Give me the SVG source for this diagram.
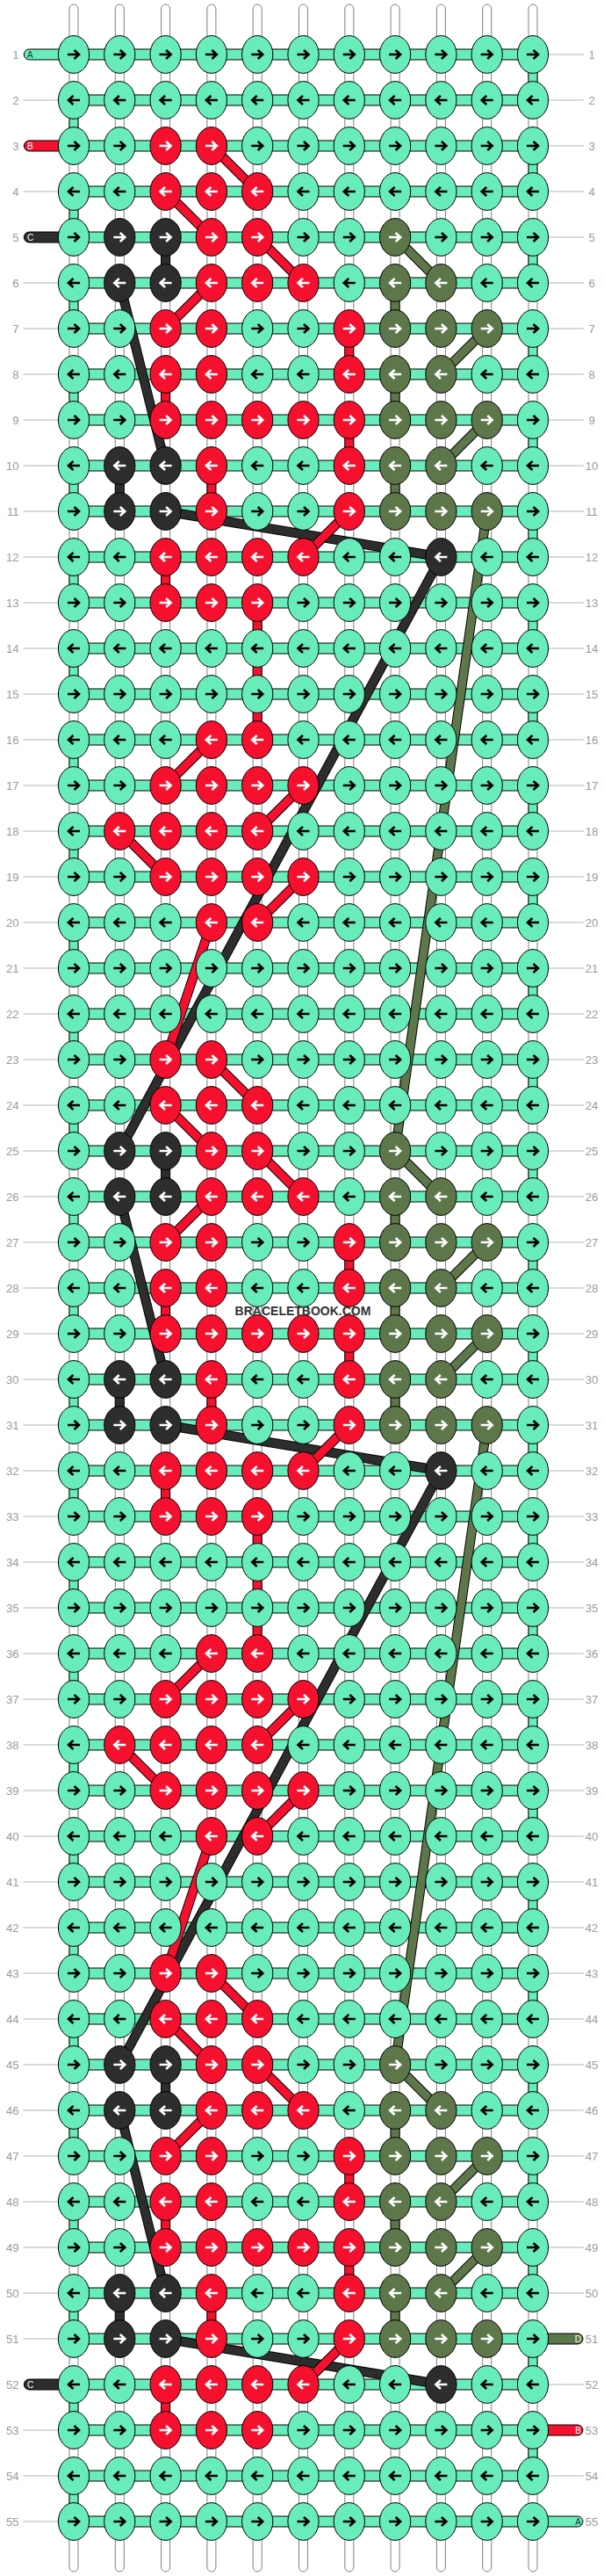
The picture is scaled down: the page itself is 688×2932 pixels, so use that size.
<svg xmlns="http://www.w3.org/2000/svg" width="688" height="2932" viewBox="0 0 688 2932">
<style>
.ka{fill:#68ECBA;stroke:#000;stroke-width:1}
.kb{fill:#F5112E;stroke:#000;stroke-width:1}
.kc{fill:#2D2D2D;stroke:#000;stroke-width:1}
.kd{fill:#5E774A;stroke:#000;stroke-width:1}
.ab{fill:none;stroke:#000;stroke-width:2.6}
.aw{fill:none;stroke:#fff;stroke-width:2.6}
.w{fill:#fff;stroke:#808080;stroke-width:1}
.o{stroke:#000;stroke-width:11;fill:none}
.lb{stroke:#F5112E;stroke-width:9;fill:none}
.lc{stroke:#2D2D2D;stroke-width:9;fill:none}
.ld{stroke:#5E774A;stroke-width:9;fill:none}
.gl{stroke:#b4b4b4;stroke-width:1.2;fill:none}
.n{font-family:"Liberation Sans",Arial,sans-serif;font-size:13px;fill:#9b9b9b}
.t{font-family:"Liberation Sans",Arial,sans-serif;font-size:10px}
.wm{font-family:"Liberation Sans",Arial,sans-serif;font-size:14px;font-weight:bold;fill:#333}
</style>
<defs>
<path id="pr" d="M-7,0H5M0.5,-5L6,0L0.5,5"/>
<path id="pl" d="M7,0H-5M-0.5,-5L-6,0L-0.5,5"/>
<g id="A1"><ellipse class="ka" rx="17.6" ry="21.4"/><use href="#pr" class="ab"/></g>
<g id="A0"><ellipse class="ka" rx="17.6" ry="21.4"/><use href="#pl" class="ab"/></g>
<g id="B1"><ellipse class="kb" rx="17.6" ry="21.4"/><use href="#pr" class="aw"/></g>
<g id="B0"><ellipse class="kb" rx="17.6" ry="21.4"/><use href="#pl" class="aw"/></g>
<g id="C1"><ellipse class="kc" rx="17.6" ry="21.4"/><use href="#pr" class="aw"/></g>
<g id="C0"><ellipse class="kc" rx="17.6" ry="21.4"/><use href="#pl" class="aw"/></g>
<g id="D1"><ellipse class="kd" rx="17.6" ry="21.4"/><use href="#pr" class="aw"/></g>
<g id="D0"><ellipse class="kd" rx="17.6" ry="21.4"/><use href="#pl" class="aw"/></g>
</defs>
<rect width="688" height="2932" fill="#fff"/>
<g id="labels">
<path class="gl" d="M26.5,114H66.5M26.5,218H66.5M26.5,322H66.5M26.5,374H66.5M26.5,426H66.5M26.5,478H66.5M26.5,530H66.5M26.5,582H66.5M26.5,634H66.5M26.5,686H66.5M26.5,738H66.5M26.5,790H66.5M26.5,842H66.5M26.5,894H66.5M26.5,946H66.5M26.5,998H66.5M26.5,1050H66.5M26.5,1102H66.5M26.5,1154H66.5M26.5,1206H66.5M26.5,1258H66.5M26.5,1310H66.5M26.5,1362H66.5M26.5,1414H66.5M26.5,1466H66.5M26.5,1518H66.5M26.5,1570H66.5M26.5,1622H66.5M26.5,1674H66.5M26.5,1726H66.5M26.5,1778H66.5M26.5,1830H66.5M26.5,1882H66.5M26.5,1934H66.5M26.5,1986H66.5M26.5,2038H66.5M26.5,2090H66.5M26.5,2142H66.5M26.5,2194H66.5M26.5,2246H66.5M26.5,2298H66.5M26.5,2350H66.5M26.5,2402H66.5M26.5,2454H66.5M26.5,2506H66.5M26.5,2558H66.5M26.5,2610H66.5M26.5,2662H66.5M26.5,2766H66.5M26.5,2818H66.5M26.5,2870H66.5"/>
<path class="gl" d="M624.5,62H665M624.5,114H665M624.5,166H665M624.5,218H665M624.5,270H665M624.5,322H665M624.5,374H665M624.5,426H665M624.5,478H665M624.5,530H665M624.5,582H665M624.5,634H665M624.5,686H665M624.5,738H665M624.5,790H665M624.5,842H665M624.5,894H665M624.5,946H665M624.5,998H665M624.5,1050H665M624.5,1102H665M624.5,1154H665M624.5,1206H665M624.5,1258H665M624.5,1310H665M624.5,1362H665M624.5,1414H665M624.5,1466H665M624.5,1518H665M624.5,1570H665M624.5,1622H665M624.5,1674H665M624.5,1726H665M624.5,1778H665M624.5,1830H665M624.5,1882H665M624.5,1934H665M624.5,1986H665M624.5,2038H665M624.5,2090H665M624.5,2142H665M624.5,2194H665M624.5,2246H665M624.5,2298H665M624.5,2350H665M624.5,2402H665M624.5,2454H665M624.5,2506H665M624.5,2558H665M624.5,2610H665M624.5,2714H665M624.5,2818H665"/>
<g class="n" text-anchor="end">
<text x="21.5" y="66.7">1</text><text x="21.5" y="118.7">2</text><text x="21.5" y="170.7">3</text><text x="21.5" y="222.7">4</text><text x="21.5" y="274.7">5</text><text x="21.5" y="326.7">6</text><text x="21.5" y="378.7">7</text><text x="21.5" y="430.7">8</text><text x="21.5" y="482.7">9</text><text x="21.5" y="534.7">10</text><text x="21.5" y="586.7">11</text><text x="21.5" y="638.7">12</text><text x="21.5" y="690.7">13</text><text x="21.5" y="742.7">14</text><text x="21.5" y="794.7">15</text><text x="21.5" y="846.7">16</text><text x="21.5" y="898.7">17</text><text x="21.5" y="950.7">18</text><text x="21.5" y="1002.7">19</text><text x="21.5" y="1054.7">20</text><text x="21.5" y="1106.7">21</text><text x="21.5" y="1158.7">22</text><text x="21.5" y="1210.7">23</text><text x="21.5" y="1262.7">24</text><text x="21.5" y="1314.7">25</text><text x="21.5" y="1366.7">26</text><text x="21.5" y="1418.7">27</text><text x="21.5" y="1470.7">28</text><text x="21.5" y="1522.7">29</text><text x="21.5" y="1574.7">30</text><text x="21.5" y="1626.7">31</text><text x="21.5" y="1678.7">32</text><text x="21.5" y="1730.7">33</text><text x="21.5" y="1782.7">34</text><text x="21.5" y="1834.7">35</text><text x="21.5" y="1886.7">36</text><text x="21.5" y="1938.7">37</text><text x="21.5" y="1990.7">38</text><text x="21.5" y="2042.7">39</text><text x="21.5" y="2094.7">40</text><text x="21.5" y="2146.7">41</text><text x="21.5" y="2198.7">42</text><text x="21.5" y="2250.7">43</text><text x="21.5" y="2302.7">44</text><text x="21.5" y="2354.7">45</text><text x="21.5" y="2406.7">46</text><text x="21.5" y="2458.7">47</text><text x="21.5" y="2510.7">48</text><text x="21.5" y="2562.7">49</text><text x="21.5" y="2614.7">50</text><text x="21.5" y="2666.7">51</text><text x="21.5" y="2718.7">52</text><text x="21.5" y="2770.7">53</text><text x="21.5" y="2822.7">54</text><text x="21.5" y="2874.7">55</text>
</g>
<g class="n" text-anchor="middle">
<text x="674" y="66.7">1</text><text x="674" y="118.7">2</text><text x="674" y="170.7">3</text><text x="674" y="222.7">4</text><text x="674" y="274.7">5</text><text x="674" y="326.7">6</text><text x="674" y="378.7">7</text><text x="674" y="430.7">8</text><text x="674" y="482.7">9</text><text x="674" y="534.7">10</text><text x="674" y="586.7">11</text><text x="674" y="638.7">12</text><text x="674" y="690.7">13</text><text x="674" y="742.7">14</text><text x="674" y="794.7">15</text><text x="674" y="846.7">16</text><text x="674" y="898.7">17</text><text x="674" y="950.7">18</text><text x="674" y="1002.7">19</text><text x="674" y="1054.7">20</text><text x="674" y="1106.7">21</text><text x="674" y="1158.7">22</text><text x="674" y="1210.7">23</text><text x="674" y="1262.7">24</text><text x="674" y="1314.7">25</text><text x="674" y="1366.7">26</text><text x="674" y="1418.7">27</text><text x="674" y="1470.7">28</text><text x="674" y="1522.7">29</text><text x="674" y="1574.7">30</text><text x="674" y="1626.7">31</text><text x="674" y="1678.7">32</text><text x="674" y="1730.7">33</text><text x="674" y="1782.7">34</text><text x="674" y="1834.7">35</text><text x="674" y="1886.7">36</text><text x="674" y="1938.7">37</text><text x="674" y="1990.7">38</text><text x="674" y="2042.7">39</text><text x="674" y="2094.7">40</text><text x="674" y="2146.7">41</text><text x="674" y="2198.7">42</text><text x="674" y="2250.7">43</text><text x="674" y="2302.7">44</text><text x="674" y="2354.7">45</text><text x="674" y="2406.7">46</text><text x="674" y="2458.7">47</text><text x="674" y="2510.7">48</text><text x="674" y="2562.7">49</text><text x="674" y="2614.7">50</text><text x="674" y="2666.7">51</text><text x="674" y="2718.7">52</text><text x="674" y="2770.7">53</text><text x="674" y="2822.7">54</text><text x="674" y="2874.7">55</text>
</g>
</g>
<g id="connectors">
<g id="base-strings">
<rect class="w" x="79" y="5" width="10" height="2922" rx="5"/>
<rect class="w" x="131.3" y="5" width="10" height="2922" rx="5"/>
<rect class="w" x="183.6" y="5" width="10" height="2922" rx="5"/>
<rect class="w" x="235.9" y="5" width="10" height="2922" rx="5"/>
<rect class="w" x="288.2" y="5" width="10" height="2922" rx="5"/>
<rect class="w" x="340.5" y="5" width="10" height="2922" rx="5"/>
<rect class="w" x="392.8" y="5" width="10" height="2922" rx="5"/>
<rect class="w" x="445.1" y="5" width="10" height="2922" rx="5"/>
<rect class="w" x="497.4" y="5" width="10" height="2922" rx="5"/>
<rect class="w" x="549.7" y="5" width="10" height="2922" rx="5"/>
<rect class="w" x="602" y="5" width="10" height="2922" rx="5"/>
</g>
<g id="turns">
<path class="ka" d="M602,62h10v52h-10zM602,166h10v52h-10zM602,270h10v52h-10zM602,374h10v52h-10zM602,478h10v52h-10zM602,582h10v52h-10zM602,686h10v52h-10zM602,790h10v52h-10zM602,894h10v52h-10zM602,998h10v52h-10zM602,1102h10v52h-10zM602,1206h10v52h-10zM602,1310h10v52h-10zM602,1414h10v52h-10zM602,1518h10v52h-10zM602,1622h10v52h-10zM602,1726h10v52h-10zM602,1830h10v52h-10zM602,1934h10v52h-10zM602,2038h10v52h-10zM602,2142h10v52h-10zM602,2246h10v52h-10zM602,2350h10v52h-10zM602,2454h10v52h-10zM602,2558h10v52h-10zM602,2662h10v52h-10zM602,2766h10v52h-10z"/>
<path class="ka" d="M79,114h10v52h-10zM79,218h10v52h-10zM79,322h10v52h-10zM79,426h10v52h-10zM79,530h10v52h-10zM79,634h10v52h-10zM79,738h10v52h-10zM79,842h10v52h-10zM79,946h10v52h-10zM79,1050h10v52h-10zM79,1154h10v52h-10zM79,1258h10v52h-10zM79,1362h10v52h-10zM79,1466h10v52h-10zM79,1570h10v52h-10zM79,1674h10v52h-10zM79,1778h10v52h-10zM79,1882h10v52h-10zM79,1986h10v52h-10zM79,2090h10v52h-10zM79,2194h10v52h-10zM79,2298h10v52h-10zM79,2402h10v52h-10zM79,2506h10v52h-10zM79,2610h10v52h-10zM79,2714h10v52h-10zM79,2818h10v52h-10z"/>
</g>
<g id="verticals">
<path class="kc" d="M183.6,270h10v52h-10zM131.3,530h10v52h-10zM183.6,1310h10v52h-10zM131.3,1570h10v52h-10zM183.6,2350h10v52h-10zM131.3,2610h10v52h-10z"/>
<path class="kd" d="M445.1,322h10v52h-10zM445.1,426h10v52h-10zM445.1,530h10v52h-10zM445.1,1362h10v52h-10zM445.1,1466h10v52h-10zM445.1,1570h10v52h-10zM445.1,2402h10v52h-10zM445.1,2506h10v52h-10zM445.1,2610h10v52h-10z"/>
<path class="kb" d="M392.8,374h10v52h-10zM183.6,426h10v52h-10zM392.8,478h10v52h-10zM235.9,530h10v52h-10zM183.6,634h10v52h-10zM288.2,686h10v156h-10zM392.8,1414h10v52h-10zM183.6,1466h10v52h-10zM392.8,1518h10v52h-10zM235.9,1570h10v52h-10zM183.6,1674h10v52h-10zM288.2,1726h10v156h-10zM392.8,2454h10v52h-10zM183.6,2506h10v52h-10zM392.8,2558h10v52h-10zM235.9,2610h10v52h-10zM183.6,2714h10v52h-10z"/>
</g>
<g id="bands">
<path class="ka" d="M84,56h523v12H84zM84,108h523v12H84zM84,160h523v12H84zM84,212h523v12H84zM84,264h523v12H84zM84,316h523v12H84zM84,368h523v12H84zM84,420h523v12H84zM84,472h523v12H84zM84,524h523v12H84zM84,576h523v12H84zM84,628h523v12H84zM84,680h523v12H84zM84,732h523v12H84zM84,784h523v12H84zM84,836h523v12H84zM84,888h523v12H84zM84,940h523v12H84zM84,992h523v12H84zM84,1044h523v12H84zM84,1096h523v12H84zM84,1148h523v12H84zM84,1200h523v12H84zM84,1252h523v12H84zM84,1304h523v12H84zM84,1356h523v12H84zM84,1408h523v12H84zM84,1460h523v12H84zM84,1512h523v12H84zM84,1564h523v12H84zM84,1616h523v12H84zM84,1668h523v12H84zM84,1720h523v12H84zM84,1772h523v12H84zM84,1824h523v12H84zM84,1876h523v12H84zM84,1928h523v12H84zM84,1980h523v12H84zM84,2032h523v12H84zM84,2084h523v12H84zM84,2136h523v12H84zM84,2188h523v12H84zM84,2240h523v12H84zM84,2292h523v12H84zM84,2344h523v12H84zM84,2396h523v12H84zM84,2448h523v12H84zM84,2500h523v12H84zM84,2552h523v12H84zM84,2604h523v12H84zM84,2656h523v12H84zM84,2708h523v12H84zM84,2760h523v12H84zM84,2812h523v12H84zM84,2864h523v12H84z"/>
</g>
<g id="thread-ends">
<path class="ka" d="M84,56H33.3a6,6 0 0 0 0,12H84z"/>
<path class="kb" d="M84,160H33.3a6,6 0 0 0 0,12H84z"/>
<path class="kc" d="M84,264H33.3a6,6 0 0 0 0,12H84z"/>
<path class="kc" d="M84,2708H33.3a6,6 0 0 0 0,12H84z"/>
<path class="kd" d="M607,2656H658a6,6 0 0 1 0,12H607z"/>
<path class="kb" d="M607,2760H658a6,6 0 0 1 0,12H607z"/>
<path class="ka" d="M607,2864H658a6,6 0 0 1 0,12H607z"/>
<text class="t" x="31" y="65.6" fill="#1c3d30">A</text>
<text class="t" x="31" y="169.6" fill="#fff">B</text>
<text class="t" x="31" y="273.6" fill="#fff">C</text>
<text class="t" x="31" y="2717.6" fill="#fff">C</text>
<text class="t" x="662" y="2665.6" fill="#fff" text-anchor="end">D</text>
<text class="t" x="662" y="2769.6" fill="#fff" text-anchor="end">B</text>
<text class="t" x="662" y="2873.6" fill="#1c3d30" text-anchor="end">A</text>
</g>
<g id="diagonals">
<g id="dc1"><line class="o" x1="136.3" y1="322" x2="188.6" y2="530"/><line class="lc" x1="136.3" y1="322" x2="188.6" y2="530"/></g>
<g id="dc2"><line class="o" x1="188.6" y1="582" x2="502.4" y2="634"/><line class="lc" x1="188.6" y1="582" x2="502.4" y2="634"/></g>
<g id="dc3"><line class="o" x1="502.4" y1="634" x2="136.3" y2="1310"/><line class="lc" x1="502.4" y1="634" x2="136.3" y2="1310"/></g>
<g id="dc4"><line class="o" x1="136.3" y1="1362" x2="188.6" y2="1570"/><line class="lc" x1="136.3" y1="1362" x2="188.6" y2="1570"/></g>
<g id="dc5"><line class="o" x1="188.6" y1="1622" x2="502.4" y2="1674"/><line class="lc" x1="188.6" y1="1622" x2="502.4" y2="1674"/></g>
<g id="dc6"><line class="o" x1="502.4" y1="1674" x2="136.3" y2="2350"/><line class="lc" x1="502.4" y1="1674" x2="136.3" y2="2350"/></g>
<g id="dc7"><line class="o" x1="136.3" y1="2402" x2="188.6" y2="2610"/><line class="lc" x1="136.3" y1="2402" x2="188.6" y2="2610"/></g>
<g id="dc8"><line class="o" x1="188.6" y1="2662" x2="502.4" y2="2714"/><line class="lc" x1="188.6" y1="2662" x2="502.4" y2="2714"/></g>
<g id="dd1"><line class="o" x1="450.1" y1="270" x2="502.4" y2="322"/><line class="ld" x1="450.1" y1="270" x2="502.4" y2="322"/></g>
<g id="dd2"><line class="o" x1="502.4" y1="426" x2="554.7" y2="374"/><line class="ld" x1="502.4" y1="426" x2="554.7" y2="374"/></g>
<g id="dd3"><line class="o" x1="554.7" y1="478" x2="502.4" y2="530"/><line class="ld" x1="554.7" y1="478" x2="502.4" y2="530"/></g>
<g id="dd4"><line class="o" x1="554.7" y1="582" x2="450.1" y2="1310"/><line class="ld" x1="554.7" y1="582" x2="450.1" y2="1310"/></g>
<g id="dd5"><line class="o" x1="450.1" y1="1310" x2="502.4" y2="1362"/><line class="ld" x1="450.1" y1="1310" x2="502.4" y2="1362"/></g>
<g id="dd6"><line class="o" x1="502.4" y1="1466" x2="554.7" y2="1414"/><line class="ld" x1="502.4" y1="1466" x2="554.7" y2="1414"/></g>
<g id="dd7"><line class="o" x1="554.7" y1="1518" x2="502.4" y2="1570"/><line class="ld" x1="554.7" y1="1518" x2="502.4" y2="1570"/></g>
<g id="dd8"><line class="o" x1="554.7" y1="1622" x2="450.1" y2="2350"/><line class="ld" x1="554.7" y1="1622" x2="450.1" y2="2350"/></g>
<g id="dd9"><line class="o" x1="450.1" y1="2350" x2="502.4" y2="2402"/><line class="ld" x1="450.1" y1="2350" x2="502.4" y2="2402"/></g>
<g id="dd10"><line class="o" x1="502.4" y1="2506" x2="554.7" y2="2454"/><line class="ld" x1="502.4" y1="2506" x2="554.7" y2="2454"/></g>
<g id="dd11"><line class="o" x1="554.7" y1="2558" x2="502.4" y2="2610"/><line class="ld" x1="554.7" y1="2558" x2="502.4" y2="2610"/></g>
<g id="db1"><line class="o" x1="240.9" y1="166" x2="293.2" y2="218"/><line class="lb" x1="240.9" y1="166" x2="293.2" y2="218"/></g>
<g id="db2"><line class="o" x1="188.6" y1="218" x2="240.9" y2="270"/><line class="lb" x1="188.6" y1="218" x2="240.9" y2="270"/></g>
<g id="db3"><line class="o" x1="293.2" y1="270" x2="345.5" y2="322"/><line class="lb" x1="293.2" y1="270" x2="345.5" y2="322"/></g>
<g id="db4"><line class="o" x1="240.9" y1="322" x2="188.6" y2="374"/><line class="lb" x1="240.9" y1="322" x2="188.6" y2="374"/></g>
<g id="db5"><line class="o" x1="397.8" y1="582" x2="345.5" y2="634"/><line class="lb" x1="397.8" y1="582" x2="345.5" y2="634"/></g>
<g id="db6"><line class="o" x1="240.9" y1="842" x2="188.6" y2="894"/><line class="lb" x1="240.9" y1="842" x2="188.6" y2="894"/></g>
<g id="db7"><line class="o" x1="345.5" y1="894" x2="293.2" y2="946"/><line class="lb" x1="345.5" y1="894" x2="293.2" y2="946"/></g>
<g id="db8"><line class="o" x1="136.3" y1="946" x2="188.6" y2="998"/><line class="lb" x1="136.3" y1="946" x2="188.6" y2="998"/></g>
<g id="db9"><line class="o" x1="345.5" y1="998" x2="293.2" y2="1050"/><line class="lb" x1="345.5" y1="998" x2="293.2" y2="1050"/></g>
<g id="db10"><line class="o" x1="240.9" y1="1050" x2="188.6" y2="1206"/><line class="lb" x1="240.9" y1="1050" x2="188.6" y2="1206"/></g>
<g id="db11"><line class="o" x1="240.9" y1="1206" x2="293.2" y2="1258"/><line class="lb" x1="240.9" y1="1206" x2="293.2" y2="1258"/></g>
<g id="db12"><line class="o" x1="188.6" y1="1258" x2="240.9" y2="1310"/><line class="lb" x1="188.6" y1="1258" x2="240.9" y2="1310"/></g>
<g id="db13"><line class="o" x1="293.2" y1="1310" x2="345.5" y2="1362"/><line class="lb" x1="293.2" y1="1310" x2="345.5" y2="1362"/></g>
<g id="db14"><line class="o" x1="240.9" y1="1362" x2="188.6" y2="1414"/><line class="lb" x1="240.9" y1="1362" x2="188.6" y2="1414"/></g>
<g id="db15"><line class="o" x1="397.8" y1="1622" x2="345.5" y2="1674"/><line class="lb" x1="397.8" y1="1622" x2="345.5" y2="1674"/></g>
<g id="db16"><line class="o" x1="240.9" y1="1882" x2="188.6" y2="1934"/><line class="lb" x1="240.9" y1="1882" x2="188.6" y2="1934"/></g>
<g id="db17"><line class="o" x1="345.5" y1="1934" x2="293.2" y2="1986"/><line class="lb" x1="345.5" y1="1934" x2="293.2" y2="1986"/></g>
<g id="db18"><line class="o" x1="136.3" y1="1986" x2="188.6" y2="2038"/><line class="lb" x1="136.3" y1="1986" x2="188.6" y2="2038"/></g>
<g id="db19"><line class="o" x1="345.5" y1="2038" x2="293.2" y2="2090"/><line class="lb" x1="345.5" y1="2038" x2="293.2" y2="2090"/></g>
<g id="db20"><line class="o" x1="240.9" y1="2090" x2="188.6" y2="2246"/><line class="lb" x1="240.9" y1="2090" x2="188.6" y2="2246"/></g>
<g id="db21"><line class="o" x1="240.9" y1="2246" x2="293.2" y2="2298"/><line class="lb" x1="240.9" y1="2246" x2="293.2" y2="2298"/></g>
<g id="db22"><line class="o" x1="188.6" y1="2298" x2="240.9" y2="2350"/><line class="lb" x1="188.6" y1="2298" x2="240.9" y2="2350"/></g>
<g id="db23"><line class="o" x1="293.2" y1="2350" x2="345.5" y2="2402"/><line class="lb" x1="293.2" y1="2350" x2="345.5" y2="2402"/></g>
<g id="db24"><line class="o" x1="240.9" y1="2402" x2="188.6" y2="2454"/><line class="lb" x1="240.9" y1="2402" x2="188.6" y2="2454"/></g>
<g id="db25"><line class="o" x1="397.8" y1="2662" x2="345.5" y2="2714"/><line class="lb" x1="397.8" y1="2662" x2="345.5" y2="2714"/></g>
</g>
</g>
<g id="knots">
<g id="r1" transform="translate(0,62)"><g id="k1-1"><use href="#A1" x="84"/></g><g id="k1-2"><use href="#A1" x="136.3"/></g><g id="k1-3"><use href="#A1" x="188.6"/></g><g id="k1-4"><use href="#A1" x="240.9"/></g><g id="k1-5"><use href="#A1" x="293.2"/></g><g id="k1-6"><use href="#A1" x="345.5"/></g><g id="k1-7"><use href="#A1" x="397.8"/></g><g id="k1-8"><use href="#A1" x="450.1"/></g><g id="k1-9"><use href="#A1" x="502.4"/></g><g id="k1-10"><use href="#A1" x="554.7"/></g><g id="k1-11"><use href="#A1" x="607"/></g></g>
<g id="r2" transform="translate(0,114)"><g id="k2-1"><use href="#A0" x="84"/></g><g id="k2-2"><use href="#A0" x="136.3"/></g><g id="k2-3"><use href="#A0" x="188.6"/></g><g id="k2-4"><use href="#A0" x="240.9"/></g><g id="k2-5"><use href="#A0" x="293.2"/></g><g id="k2-6"><use href="#A0" x="345.5"/></g><g id="k2-7"><use href="#A0" x="397.8"/></g><g id="k2-8"><use href="#A0" x="450.1"/></g><g id="k2-9"><use href="#A0" x="502.4"/></g><g id="k2-10"><use href="#A0" x="554.7"/></g><g id="k2-11"><use href="#A0" x="607"/></g></g>
<g id="r3" transform="translate(0,166)"><g id="k3-1"><use href="#A1" x="84"/></g><g id="k3-2"><use href="#A1" x="136.3"/></g><g id="k3-3"><use href="#B1" x="188.6"/></g><g id="k3-4"><use href="#B1" x="240.9"/></g><g id="k3-5"><use href="#A1" x="293.2"/></g><g id="k3-6"><use href="#A1" x="345.5"/></g><g id="k3-7"><use href="#A1" x="397.8"/></g><g id="k3-8"><use href="#A1" x="450.1"/></g><g id="k3-9"><use href="#A1" x="502.4"/></g><g id="k3-10"><use href="#A1" x="554.7"/></g><g id="k3-11"><use href="#A1" x="607"/></g></g>
<g id="r4" transform="translate(0,218)"><g id="k4-1"><use href="#A0" x="84"/></g><g id="k4-2"><use href="#A0" x="136.3"/></g><g id="k4-3"><use href="#B0" x="188.6"/></g><g id="k4-4"><use href="#B0" x="240.9"/></g><g id="k4-5"><use href="#B0" x="293.2"/></g><g id="k4-6"><use href="#A0" x="345.5"/></g><g id="k4-7"><use href="#A0" x="397.8"/></g><g id="k4-8"><use href="#A0" x="450.1"/></g><g id="k4-9"><use href="#A0" x="502.4"/></g><g id="k4-10"><use href="#A0" x="554.7"/></g><g id="k4-11"><use href="#A0" x="607"/></g></g>
<g id="r5" transform="translate(0,270)"><g id="k5-1"><use href="#A1" x="84"/></g><g id="k5-2"><use href="#C1" x="136.3"/></g><g id="k5-3"><use href="#C1" x="188.6"/></g><g id="k5-4"><use href="#B1" x="240.9"/></g><g id="k5-5"><use href="#B1" x="293.2"/></g><g id="k5-6"><use href="#A1" x="345.5"/></g><g id="k5-7"><use href="#A1" x="397.8"/></g><g id="k5-8"><use href="#D1" x="450.1"/></g><g id="k5-9"><use href="#A1" x="502.4"/></g><g id="k5-10"><use href="#A1" x="554.7"/></g><g id="k5-11"><use href="#A1" x="607"/></g></g>
<g id="r6" transform="translate(0,322)"><g id="k6-1"><use href="#A0" x="84"/></g><g id="k6-2"><use href="#C0" x="136.3"/></g><g id="k6-3"><use href="#C0" x="188.6"/></g><g id="k6-4"><use href="#B0" x="240.9"/></g><g id="k6-5"><use href="#B0" x="293.2"/></g><g id="k6-6"><use href="#B0" x="345.5"/></g><g id="k6-7"><use href="#A0" x="397.8"/></g><g id="k6-8"><use href="#D0" x="450.1"/></g><g id="k6-9"><use href="#D0" x="502.4"/></g><g id="k6-10"><use href="#A0" x="554.7"/></g><g id="k6-11"><use href="#A0" x="607"/></g></g>
<g id="r7" transform="translate(0,374)"><g id="k7-1"><use href="#A1" x="84"/></g><g id="k7-2"><use href="#A1" x="136.3"/></g><g id="k7-3"><use href="#B1" x="188.6"/></g><g id="k7-4"><use href="#B1" x="240.9"/></g><g id="k7-5"><use href="#A1" x="293.2"/></g><g id="k7-6"><use href="#A1" x="345.5"/></g><g id="k7-7"><use href="#B1" x="397.8"/></g><g id="k7-8"><use href="#D1" x="450.1"/></g><g id="k7-9"><use href="#D1" x="502.4"/></g><g id="k7-10"><use href="#D1" x="554.7"/></g><g id="k7-11"><use href="#A1" x="607"/></g></g>
<g id="r8" transform="translate(0,426)"><g id="k8-1"><use href="#A0" x="84"/></g><g id="k8-2"><use href="#A0" x="136.3"/></g><g id="k8-3"><use href="#B0" x="188.6"/></g><g id="k8-4"><use href="#B0" x="240.9"/></g><g id="k8-5"><use href="#A0" x="293.2"/></g><g id="k8-6"><use href="#A0" x="345.5"/></g><g id="k8-7"><use href="#B0" x="397.8"/></g><g id="k8-8"><use href="#D0" x="450.1"/></g><g id="k8-9"><use href="#D0" x="502.4"/></g><g id="k8-10"><use href="#A0" x="554.7"/></g><g id="k8-11"><use href="#A0" x="607"/></g></g>
<g id="r9" transform="translate(0,478)"><g id="k9-1"><use href="#A1" x="84"/></g><g id="k9-2"><use href="#A1" x="136.3"/></g><g id="k9-3"><use href="#B1" x="188.6"/></g><g id="k9-4"><use href="#B1" x="240.9"/></g><g id="k9-5"><use href="#B1" x="293.2"/></g><g id="k9-6"><use href="#B1" x="345.5"/></g><g id="k9-7"><use href="#B1" x="397.8"/></g><g id="k9-8"><use href="#D1" x="450.1"/></g><g id="k9-9"><use href="#D1" x="502.4"/></g><g id="k9-10"><use href="#D1" x="554.7"/></g><g id="k9-11"><use href="#A1" x="607"/></g></g>
<g id="r10" transform="translate(0,530)"><g id="k10-1"><use href="#A0" x="84"/></g><g id="k10-2"><use href="#C0" x="136.3"/></g><g id="k10-3"><use href="#C0" x="188.6"/></g><g id="k10-4"><use href="#B0" x="240.9"/></g><g id="k10-5"><use href="#A0" x="293.2"/></g><g id="k10-6"><use href="#A0" x="345.5"/></g><g id="k10-7"><use href="#B0" x="397.8"/></g><g id="k10-8"><use href="#D0" x="450.1"/></g><g id="k10-9"><use href="#D0" x="502.4"/></g><g id="k10-10"><use href="#A0" x="554.7"/></g><g id="k10-11"><use href="#A0" x="607"/></g></g>
<g id="r11" transform="translate(0,582)"><g id="k11-1"><use href="#A1" x="84"/></g><g id="k11-2"><use href="#C1" x="136.3"/></g><g id="k11-3"><use href="#C1" x="188.6"/></g><g id="k11-4"><use href="#B1" x="240.9"/></g><g id="k11-5"><use href="#A1" x="293.2"/></g><g id="k11-6"><use href="#A1" x="345.5"/></g><g id="k11-7"><use href="#B1" x="397.8"/></g><g id="k11-8"><use href="#D1" x="450.1"/></g><g id="k11-9"><use href="#D1" x="502.4"/></g><g id="k11-10"><use href="#D1" x="554.7"/></g><g id="k11-11"><use href="#A1" x="607"/></g></g>
<g id="r12" transform="translate(0,634)"><g id="k12-1"><use href="#A0" x="84"/></g><g id="k12-2"><use href="#A0" x="136.3"/></g><g id="k12-3"><use href="#B0" x="188.6"/></g><g id="k12-4"><use href="#B0" x="240.9"/></g><g id="k12-5"><use href="#B0" x="293.2"/></g><g id="k12-6"><use href="#B0" x="345.5"/></g><g id="k12-7"><use href="#A0" x="397.8"/></g><g id="k12-8"><use href="#A0" x="450.1"/></g><g id="k12-9"><use href="#C0" x="502.4"/></g><g id="k12-10"><use href="#A0" x="554.7"/></g><g id="k12-11"><use href="#A0" x="607"/></g></g>
<g id="r13" transform="translate(0,686)"><g id="k13-1"><use href="#A1" x="84"/></g><g id="k13-2"><use href="#A1" x="136.3"/></g><g id="k13-3"><use href="#B1" x="188.6"/></g><g id="k13-4"><use href="#B1" x="240.9"/></g><g id="k13-5"><use href="#B1" x="293.2"/></g><g id="k13-6"><use href="#A1" x="345.5"/></g><g id="k13-7"><use href="#A1" x="397.8"/></g><g id="k13-8"><use href="#A1" x="450.1"/></g><g id="k13-9"><use href="#A1" x="502.4"/></g><g id="k13-10"><use href="#A1" x="554.7"/></g><g id="k13-11"><use href="#A1" x="607"/></g></g>
<g id="r14" transform="translate(0,738)"><g id="k14-1"><use href="#A0" x="84"/></g><g id="k14-2"><use href="#A0" x="136.3"/></g><g id="k14-3"><use href="#A0" x="188.6"/></g><g id="k14-4"><use href="#A0" x="240.9"/></g><g id="k14-5"><use href="#A0" x="293.2"/></g><g id="k14-6"><use href="#A0" x="345.5"/></g><g id="k14-7"><use href="#A0" x="397.8"/></g><g id="k14-8"><use href="#A0" x="450.1"/></g><g id="k14-9"><use href="#A0" x="502.4"/></g><g id="k14-10"><use href="#A0" x="554.7"/></g><g id="k14-11"><use href="#A0" x="607"/></g></g>
<g id="r15" transform="translate(0,790)"><g id="k15-1"><use href="#A1" x="84"/></g><g id="k15-2"><use href="#A1" x="136.3"/></g><g id="k15-3"><use href="#A1" x="188.6"/></g><g id="k15-4"><use href="#A1" x="240.9"/></g><g id="k15-5"><use href="#A1" x="293.2"/></g><g id="k15-6"><use href="#A1" x="345.5"/></g><g id="k15-7"><use href="#A1" x="397.8"/></g><g id="k15-8"><use href="#A1" x="450.1"/></g><g id="k15-9"><use href="#A1" x="502.4"/></g><g id="k15-10"><use href="#A1" x="554.7"/></g><g id="k15-11"><use href="#A1" x="607"/></g></g>
<g id="r16" transform="translate(0,842)"><g id="k16-1"><use href="#A0" x="84"/></g><g id="k16-2"><use href="#A0" x="136.3"/></g><g id="k16-3"><use href="#A0" x="188.6"/></g><g id="k16-4"><use href="#B0" x="240.9"/></g><g id="k16-5"><use href="#B0" x="293.2"/></g><g id="k16-6"><use href="#A0" x="345.5"/></g><g id="k16-7"><use href="#A0" x="397.8"/></g><g id="k16-8"><use href="#A0" x="450.1"/></g><g id="k16-9"><use href="#A0" x="502.4"/></g><g id="k16-10"><use href="#A0" x="554.7"/></g><g id="k16-11"><use href="#A0" x="607"/></g></g>
<g id="r17" transform="translate(0,894)"><g id="k17-1"><use href="#A1" x="84"/></g><g id="k17-2"><use href="#A1" x="136.3"/></g><g id="k17-3"><use href="#B1" x="188.6"/></g><g id="k17-4"><use href="#B1" x="240.9"/></g><g id="k17-5"><use href="#B1" x="293.2"/></g><g id="k17-6"><use href="#B1" x="345.5"/></g><g id="k17-7"><use href="#A1" x="397.8"/></g><g id="k17-8"><use href="#A1" x="450.1"/></g><g id="k17-9"><use href="#A1" x="502.4"/></g><g id="k17-10"><use href="#A1" x="554.7"/></g><g id="k17-11"><use href="#A1" x="607"/></g></g>
<g id="r18" transform="translate(0,946)"><g id="k18-1"><use href="#A0" x="84"/></g><g id="k18-2"><use href="#B0" x="136.3"/></g><g id="k18-3"><use href="#B0" x="188.6"/></g><g id="k18-4"><use href="#B0" x="240.9"/></g><g id="k18-5"><use href="#B0" x="293.2"/></g><g id="k18-6"><use href="#A0" x="345.5"/></g><g id="k18-7"><use href="#A0" x="397.8"/></g><g id="k18-8"><use href="#A0" x="450.1"/></g><g id="k18-9"><use href="#A0" x="502.4"/></g><g id="k18-10"><use href="#A0" x="554.7"/></g><g id="k18-11"><use href="#A0" x="607"/></g></g>
<g id="r19" transform="translate(0,998)"><g id="k19-1"><use href="#A1" x="84"/></g><g id="k19-2"><use href="#A1" x="136.3"/></g><g id="k19-3"><use href="#B1" x="188.6"/></g><g id="k19-4"><use href="#B1" x="240.9"/></g><g id="k19-5"><use href="#B1" x="293.2"/></g><g id="k19-6"><use href="#B1" x="345.5"/></g><g id="k19-7"><use href="#A1" x="397.8"/></g><g id="k19-8"><use href="#A1" x="450.1"/></g><g id="k19-9"><use href="#A1" x="502.4"/></g><g id="k19-10"><use href="#A1" x="554.7"/></g><g id="k19-11"><use href="#A1" x="607"/></g></g>
<g id="r20" transform="translate(0,1050)"><g id="k20-1"><use href="#A0" x="84"/></g><g id="k20-2"><use href="#A0" x="136.3"/></g><g id="k20-3"><use href="#A0" x="188.6"/></g><g id="k20-4"><use href="#B0" x="240.9"/></g><g id="k20-5"><use href="#B0" x="293.2"/></g><g id="k20-6"><use href="#A0" x="345.5"/></g><g id="k20-7"><use href="#A0" x="397.8"/></g><g id="k20-8"><use href="#A0" x="450.1"/></g><g id="k20-9"><use href="#A0" x="502.4"/></g><g id="k20-10"><use href="#A0" x="554.7"/></g><g id="k20-11"><use href="#A0" x="607"/></g></g>
<g id="r21" transform="translate(0,1102)"><g id="k21-1"><use href="#A1" x="84"/></g><g id="k21-2"><use href="#A1" x="136.3"/></g><g id="k21-3"><use href="#A1" x="188.6"/></g><g id="k21-4"><use href="#A1" x="240.9"/></g><g id="k21-5"><use href="#A1" x="293.2"/></g><g id="k21-6"><use href="#A1" x="345.5"/></g><g id="k21-7"><use href="#A1" x="397.8"/></g><g id="k21-8"><use href="#A1" x="450.1"/></g><g id="k21-9"><use href="#A1" x="502.4"/></g><g id="k21-10"><use href="#A1" x="554.7"/></g><g id="k21-11"><use href="#A1" x="607"/></g></g>
<g id="r22" transform="translate(0,1154)"><g id="k22-1"><use href="#A0" x="84"/></g><g id="k22-2"><use href="#A0" x="136.3"/></g><g id="k22-3"><use href="#A0" x="188.6"/></g><g id="k22-4"><use href="#A0" x="240.9"/></g><g id="k22-5"><use href="#A0" x="293.2"/></g><g id="k22-6"><use href="#A0" x="345.5"/></g><g id="k22-7"><use href="#A0" x="397.8"/></g><g id="k22-8"><use href="#A0" x="450.1"/></g><g id="k22-9"><use href="#A0" x="502.4"/></g><g id="k22-10"><use href="#A0" x="554.7"/></g><g id="k22-11"><use href="#A0" x="607"/></g></g>
<g id="r23" transform="translate(0,1206)"><g id="k23-1"><use href="#A1" x="84"/></g><g id="k23-2"><use href="#A1" x="136.3"/></g><g id="k23-3"><use href="#B1" x="188.6"/></g><g id="k23-4"><use href="#B1" x="240.9"/></g><g id="k23-5"><use href="#A1" x="293.2"/></g><g id="k23-6"><use href="#A1" x="345.5"/></g><g id="k23-7"><use href="#A1" x="397.8"/></g><g id="k23-8"><use href="#A1" x="450.1"/></g><g id="k23-9"><use href="#A1" x="502.4"/></g><g id="k23-10"><use href="#A1" x="554.7"/></g><g id="k23-11"><use href="#A1" x="607"/></g></g>
<g id="r24" transform="translate(0,1258)"><g id="k24-1"><use href="#A0" x="84"/></g><g id="k24-2"><use href="#A0" x="136.3"/></g><g id="k24-3"><use href="#B0" x="188.6"/></g><g id="k24-4"><use href="#B0" x="240.9"/></g><g id="k24-5"><use href="#B0" x="293.2"/></g><g id="k24-6"><use href="#A0" x="345.5"/></g><g id="k24-7"><use href="#A0" x="397.8"/></g><g id="k24-8"><use href="#A0" x="450.1"/></g><g id="k24-9"><use href="#A0" x="502.4"/></g><g id="k24-10"><use href="#A0" x="554.7"/></g><g id="k24-11"><use href="#A0" x="607"/></g></g>
<g id="r25" transform="translate(0,1310)"><g id="k25-1"><use href="#A1" x="84"/></g><g id="k25-2"><use href="#C1" x="136.3"/></g><g id="k25-3"><use href="#C1" x="188.6"/></g><g id="k25-4"><use href="#B1" x="240.9"/></g><g id="k25-5"><use href="#B1" x="293.2"/></g><g id="k25-6"><use href="#A1" x="345.5"/></g><g id="k25-7"><use href="#A1" x="397.8"/></g><g id="k25-8"><use href="#D1" x="450.1"/></g><g id="k25-9"><use href="#A1" x="502.4"/></g><g id="k25-10"><use href="#A1" x="554.7"/></g><g id="k25-11"><use href="#A1" x="607"/></g></g>
<g id="r26" transform="translate(0,1362)"><g id="k26-1"><use href="#A0" x="84"/></g><g id="k26-2"><use href="#C0" x="136.3"/></g><g id="k26-3"><use href="#C0" x="188.6"/></g><g id="k26-4"><use href="#B0" x="240.9"/></g><g id="k26-5"><use href="#B0" x="293.2"/></g><g id="k26-6"><use href="#B0" x="345.5"/></g><g id="k26-7"><use href="#A0" x="397.8"/></g><g id="k26-8"><use href="#D0" x="450.1"/></g><g id="k26-9"><use href="#D0" x="502.4"/></g><g id="k26-10"><use href="#A0" x="554.7"/></g><g id="k26-11"><use href="#A0" x="607"/></g></g>
<g id="r27" transform="translate(0,1414)"><g id="k27-1"><use href="#A1" x="84"/></g><g id="k27-2"><use href="#A1" x="136.3"/></g><g id="k27-3"><use href="#B1" x="188.6"/></g><g id="k27-4"><use href="#B1" x="240.9"/></g><g id="k27-5"><use href="#A1" x="293.2"/></g><g id="k27-6"><use href="#A1" x="345.5"/></g><g id="k27-7"><use href="#B1" x="397.8"/></g><g id="k27-8"><use href="#D1" x="450.1"/></g><g id="k27-9"><use href="#D1" x="502.4"/></g><g id="k27-10"><use href="#D1" x="554.7"/></g><g id="k27-11"><use href="#A1" x="607"/></g></g>
<g id="r28" transform="translate(0,1466)"><g id="k28-1"><use href="#A0" x="84"/></g><g id="k28-2"><use href="#A0" x="136.3"/></g><g id="k28-3"><use href="#B0" x="188.6"/></g><g id="k28-4"><use href="#B0" x="240.9"/></g><g id="k28-5"><use href="#A0" x="293.2"/></g><g id="k28-6"><use href="#A0" x="345.5"/></g><g id="k28-7"><use href="#B0" x="397.8"/></g><g id="k28-8"><use href="#D0" x="450.1"/></g><g id="k28-9"><use href="#D0" x="502.4"/></g><g id="k28-10"><use href="#A0" x="554.7"/></g><g id="k28-11"><use href="#A0" x="607"/></g></g>
<g id="r29" transform="translate(0,1518)"><g id="k29-1"><use href="#A1" x="84"/></g><g id="k29-2"><use href="#A1" x="136.3"/></g><g id="k29-3"><use href="#B1" x="188.6"/></g><g id="k29-4"><use href="#B1" x="240.9"/></g><g id="k29-5"><use href="#B1" x="293.2"/></g><g id="k29-6"><use href="#B1" x="345.5"/></g><g id="k29-7"><use href="#B1" x="397.8"/></g><g id="k29-8"><use href="#D1" x="450.1"/></g><g id="k29-9"><use href="#D1" x="502.4"/></g><g id="k29-10"><use href="#D1" x="554.7"/></g><g id="k29-11"><use href="#A1" x="607"/></g></g>
<g id="r30" transform="translate(0,1570)"><g id="k30-1"><use href="#A0" x="84"/></g><g id="k30-2"><use href="#C0" x="136.3"/></g><g id="k30-3"><use href="#C0" x="188.6"/></g><g id="k30-4"><use href="#B0" x="240.9"/></g><g id="k30-5"><use href="#A0" x="293.2"/></g><g id="k30-6"><use href="#A0" x="345.5"/></g><g id="k30-7"><use href="#B0" x="397.8"/></g><g id="k30-8"><use href="#D0" x="450.1"/></g><g id="k30-9"><use href="#D0" x="502.4"/></g><g id="k30-10"><use href="#A0" x="554.7"/></g><g id="k30-11"><use href="#A0" x="607"/></g></g>
<g id="r31" transform="translate(0,1622)"><g id="k31-1"><use href="#A1" x="84"/></g><g id="k31-2"><use href="#C1" x="136.3"/></g><g id="k31-3"><use href="#C1" x="188.6"/></g><g id="k31-4"><use href="#B1" x="240.9"/></g><g id="k31-5"><use href="#A1" x="293.2"/></g><g id="k31-6"><use href="#A1" x="345.5"/></g><g id="k31-7"><use href="#B1" x="397.8"/></g><g id="k31-8"><use href="#D1" x="450.1"/></g><g id="k31-9"><use href="#D1" x="502.4"/></g><g id="k31-10"><use href="#D1" x="554.7"/></g><g id="k31-11"><use href="#A1" x="607"/></g></g>
<g id="r32" transform="translate(0,1674)"><g id="k32-1"><use href="#A0" x="84"/></g><g id="k32-2"><use href="#A0" x="136.3"/></g><g id="k32-3"><use href="#B0" x="188.6"/></g><g id="k32-4"><use href="#B0" x="240.9"/></g><g id="k32-5"><use href="#B0" x="293.2"/></g><g id="k32-6"><use href="#B0" x="345.5"/></g><g id="k32-7"><use href="#A0" x="397.8"/></g><g id="k32-8"><use href="#A0" x="450.1"/></g><g id="k32-9"><use href="#C0" x="502.4"/></g><g id="k32-10"><use href="#A0" x="554.7"/></g><g id="k32-11"><use href="#A0" x="607"/></g></g>
<g id="r33" transform="translate(0,1726)"><g id="k33-1"><use href="#A1" x="84"/></g><g id="k33-2"><use href="#A1" x="136.3"/></g><g id="k33-3"><use href="#B1" x="188.6"/></g><g id="k33-4"><use href="#B1" x="240.9"/></g><g id="k33-5"><use href="#B1" x="293.2"/></g><g id="k33-6"><use href="#A1" x="345.5"/></g><g id="k33-7"><use href="#A1" x="397.8"/></g><g id="k33-8"><use href="#A1" x="450.1"/></g><g id="k33-9"><use href="#A1" x="502.4"/></g><g id="k33-10"><use href="#A1" x="554.7"/></g><g id="k33-11"><use href="#A1" x="607"/></g></g>
<g id="r34" transform="translate(0,1778)"><g id="k34-1"><use href="#A0" x="84"/></g><g id="k34-2"><use href="#A0" x="136.3"/></g><g id="k34-3"><use href="#A0" x="188.6"/></g><g id="k34-4"><use href="#A0" x="240.9"/></g><g id="k34-5"><use href="#A0" x="293.2"/></g><g id="k34-6"><use href="#A0" x="345.5"/></g><g id="k34-7"><use href="#A0" x="397.8"/></g><g id="k34-8"><use href="#A0" x="450.1"/></g><g id="k34-9"><use href="#A0" x="502.4"/></g><g id="k34-10"><use href="#A0" x="554.7"/></g><g id="k34-11"><use href="#A0" x="607"/></g></g>
<g id="r35" transform="translate(0,1830)"><g id="k35-1"><use href="#A1" x="84"/></g><g id="k35-2"><use href="#A1" x="136.3"/></g><g id="k35-3"><use href="#A1" x="188.6"/></g><g id="k35-4"><use href="#A1" x="240.9"/></g><g id="k35-5"><use href="#A1" x="293.2"/></g><g id="k35-6"><use href="#A1" x="345.5"/></g><g id="k35-7"><use href="#A1" x="397.8"/></g><g id="k35-8"><use href="#A1" x="450.1"/></g><g id="k35-9"><use href="#A1" x="502.4"/></g><g id="k35-10"><use href="#A1" x="554.7"/></g><g id="k35-11"><use href="#A1" x="607"/></g></g>
<g id="r36" transform="translate(0,1882)"><g id="k36-1"><use href="#A0" x="84"/></g><g id="k36-2"><use href="#A0" x="136.3"/></g><g id="k36-3"><use href="#A0" x="188.6"/></g><g id="k36-4"><use href="#B0" x="240.9"/></g><g id="k36-5"><use href="#B0" x="293.2"/></g><g id="k36-6"><use href="#A0" x="345.5"/></g><g id="k36-7"><use href="#A0" x="397.8"/></g><g id="k36-8"><use href="#A0" x="450.1"/></g><g id="k36-9"><use href="#A0" x="502.4"/></g><g id="k36-10"><use href="#A0" x="554.7"/></g><g id="k36-11"><use href="#A0" x="607"/></g></g>
<g id="r37" transform="translate(0,1934)"><g id="k37-1"><use href="#A1" x="84"/></g><g id="k37-2"><use href="#A1" x="136.3"/></g><g id="k37-3"><use href="#B1" x="188.6"/></g><g id="k37-4"><use href="#B1" x="240.9"/></g><g id="k37-5"><use href="#B1" x="293.2"/></g><g id="k37-6"><use href="#B1" x="345.5"/></g><g id="k37-7"><use href="#A1" x="397.8"/></g><g id="k37-8"><use href="#A1" x="450.1"/></g><g id="k37-9"><use href="#A1" x="502.4"/></g><g id="k37-10"><use href="#A1" x="554.7"/></g><g id="k37-11"><use href="#A1" x="607"/></g></g>
<g id="r38" transform="translate(0,1986)"><g id="k38-1"><use href="#A0" x="84"/></g><g id="k38-2"><use href="#B0" x="136.3"/></g><g id="k38-3"><use href="#B0" x="188.6"/></g><g id="k38-4"><use href="#B0" x="240.9"/></g><g id="k38-5"><use href="#B0" x="293.2"/></g><g id="k38-6"><use href="#A0" x="345.5"/></g><g id="k38-7"><use href="#A0" x="397.8"/></g><g id="k38-8"><use href="#A0" x="450.1"/></g><g id="k38-9"><use href="#A0" x="502.4"/></g><g id="k38-10"><use href="#A0" x="554.7"/></g><g id="k38-11"><use href="#A0" x="607"/></g></g>
<g id="r39" transform="translate(0,2038)"><g id="k39-1"><use href="#A1" x="84"/></g><g id="k39-2"><use href="#A1" x="136.3"/></g><g id="k39-3"><use href="#B1" x="188.6"/></g><g id="k39-4"><use href="#B1" x="240.9"/></g><g id="k39-5"><use href="#B1" x="293.2"/></g><g id="k39-6"><use href="#B1" x="345.5"/></g><g id="k39-7"><use href="#A1" x="397.8"/></g><g id="k39-8"><use href="#A1" x="450.1"/></g><g id="k39-9"><use href="#A1" x="502.4"/></g><g id="k39-10"><use href="#A1" x="554.7"/></g><g id="k39-11"><use href="#A1" x="607"/></g></g>
<g id="r40" transform="translate(0,2090)"><g id="k40-1"><use href="#A0" x="84"/></g><g id="k40-2"><use href="#A0" x="136.3"/></g><g id="k40-3"><use href="#A0" x="188.6"/></g><g id="k40-4"><use href="#B0" x="240.9"/></g><g id="k40-5"><use href="#B0" x="293.2"/></g><g id="k40-6"><use href="#A0" x="345.5"/></g><g id="k40-7"><use href="#A0" x="397.8"/></g><g id="k40-8"><use href="#A0" x="450.1"/></g><g id="k40-9"><use href="#A0" x="502.4"/></g><g id="k40-10"><use href="#A0" x="554.7"/></g><g id="k40-11"><use href="#A0" x="607"/></g></g>
<g id="r41" transform="translate(0,2142)"><g id="k41-1"><use href="#A1" x="84"/></g><g id="k41-2"><use href="#A1" x="136.3"/></g><g id="k41-3"><use href="#A1" x="188.6"/></g><g id="k41-4"><use href="#A1" x="240.9"/></g><g id="k41-5"><use href="#A1" x="293.2"/></g><g id="k41-6"><use href="#A1" x="345.5"/></g><g id="k41-7"><use href="#A1" x="397.8"/></g><g id="k41-8"><use href="#A1" x="450.1"/></g><g id="k41-9"><use href="#A1" x="502.4"/></g><g id="k41-10"><use href="#A1" x="554.7"/></g><g id="k41-11"><use href="#A1" x="607"/></g></g>
<g id="r42" transform="translate(0,2194)"><g id="k42-1"><use href="#A0" x="84"/></g><g id="k42-2"><use href="#A0" x="136.3"/></g><g id="k42-3"><use href="#A0" x="188.6"/></g><g id="k42-4"><use href="#A0" x="240.9"/></g><g id="k42-5"><use href="#A0" x="293.2"/></g><g id="k42-6"><use href="#A0" x="345.5"/></g><g id="k42-7"><use href="#A0" x="397.8"/></g><g id="k42-8"><use href="#A0" x="450.1"/></g><g id="k42-9"><use href="#A0" x="502.4"/></g><g id="k42-10"><use href="#A0" x="554.7"/></g><g id="k42-11"><use href="#A0" x="607"/></g></g>
<g id="r43" transform="translate(0,2246)"><g id="k43-1"><use href="#A1" x="84"/></g><g id="k43-2"><use href="#A1" x="136.3"/></g><g id="k43-3"><use href="#B1" x="188.6"/></g><g id="k43-4"><use href="#B1" x="240.9"/></g><g id="k43-5"><use href="#A1" x="293.2"/></g><g id="k43-6"><use href="#A1" x="345.5"/></g><g id="k43-7"><use href="#A1" x="397.8"/></g><g id="k43-8"><use href="#A1" x="450.1"/></g><g id="k43-9"><use href="#A1" x="502.4"/></g><g id="k43-10"><use href="#A1" x="554.7"/></g><g id="k43-11"><use href="#A1" x="607"/></g></g>
<g id="r44" transform="translate(0,2298)"><g id="k44-1"><use href="#A0" x="84"/></g><g id="k44-2"><use href="#A0" x="136.3"/></g><g id="k44-3"><use href="#B0" x="188.6"/></g><g id="k44-4"><use href="#B0" x="240.9"/></g><g id="k44-5"><use href="#B0" x="293.2"/></g><g id="k44-6"><use href="#A0" x="345.5"/></g><g id="k44-7"><use href="#A0" x="397.8"/></g><g id="k44-8"><use href="#A0" x="450.1"/></g><g id="k44-9"><use href="#A0" x="502.4"/></g><g id="k44-10"><use href="#A0" x="554.7"/></g><g id="k44-11"><use href="#A0" x="607"/></g></g>
<g id="r45" transform="translate(0,2350)"><g id="k45-1"><use href="#A1" x="84"/></g><g id="k45-2"><use href="#C1" x="136.3"/></g><g id="k45-3"><use href="#C1" x="188.6"/></g><g id="k45-4"><use href="#B1" x="240.9"/></g><g id="k45-5"><use href="#B1" x="293.2"/></g><g id="k45-6"><use href="#A1" x="345.5"/></g><g id="k45-7"><use href="#A1" x="397.8"/></g><g id="k45-8"><use href="#D1" x="450.1"/></g><g id="k45-9"><use href="#A1" x="502.4"/></g><g id="k45-10"><use href="#A1" x="554.7"/></g><g id="k45-11"><use href="#A1" x="607"/></g></g>
<g id="r46" transform="translate(0,2402)"><g id="k46-1"><use href="#A0" x="84"/></g><g id="k46-2"><use href="#C0" x="136.3"/></g><g id="k46-3"><use href="#C0" x="188.6"/></g><g id="k46-4"><use href="#B0" x="240.9"/></g><g id="k46-5"><use href="#B0" x="293.2"/></g><g id="k46-6"><use href="#B0" x="345.5"/></g><g id="k46-7"><use href="#A0" x="397.8"/></g><g id="k46-8"><use href="#D0" x="450.1"/></g><g id="k46-9"><use href="#D0" x="502.4"/></g><g id="k46-10"><use href="#A0" x="554.7"/></g><g id="k46-11"><use href="#A0" x="607"/></g></g>
<g id="r47" transform="translate(0,2454)"><g id="k47-1"><use href="#A1" x="84"/></g><g id="k47-2"><use href="#A1" x="136.3"/></g><g id="k47-3"><use href="#B1" x="188.6"/></g><g id="k47-4"><use href="#B1" x="240.9"/></g><g id="k47-5"><use href="#A1" x="293.2"/></g><g id="k47-6"><use href="#A1" x="345.5"/></g><g id="k47-7"><use href="#B1" x="397.8"/></g><g id="k47-8"><use href="#D1" x="450.1"/></g><g id="k47-9"><use href="#D1" x="502.4"/></g><g id="k47-10"><use href="#D1" x="554.7"/></g><g id="k47-11"><use href="#A1" x="607"/></g></g>
<g id="r48" transform="translate(0,2506)"><g id="k48-1"><use href="#A0" x="84"/></g><g id="k48-2"><use href="#A0" x="136.3"/></g><g id="k48-3"><use href="#B0" x="188.6"/></g><g id="k48-4"><use href="#B0" x="240.9"/></g><g id="k48-5"><use href="#A0" x="293.2"/></g><g id="k48-6"><use href="#A0" x="345.5"/></g><g id="k48-7"><use href="#B0" x="397.8"/></g><g id="k48-8"><use href="#D0" x="450.1"/></g><g id="k48-9"><use href="#D0" x="502.4"/></g><g id="k48-10"><use href="#A0" x="554.7"/></g><g id="k48-11"><use href="#A0" x="607"/></g></g>
<g id="r49" transform="translate(0,2558)"><g id="k49-1"><use href="#A1" x="84"/></g><g id="k49-2"><use href="#A1" x="136.3"/></g><g id="k49-3"><use href="#B1" x="188.6"/></g><g id="k49-4"><use href="#B1" x="240.9"/></g><g id="k49-5"><use href="#B1" x="293.2"/></g><g id="k49-6"><use href="#B1" x="345.5"/></g><g id="k49-7"><use href="#B1" x="397.8"/></g><g id="k49-8"><use href="#D1" x="450.1"/></g><g id="k49-9"><use href="#D1" x="502.4"/></g><g id="k49-10"><use href="#D1" x="554.7"/></g><g id="k49-11"><use href="#A1" x="607"/></g></g>
<g id="r50" transform="translate(0,2610)"><g id="k50-1"><use href="#A0" x="84"/></g><g id="k50-2"><use href="#C0" x="136.3"/></g><g id="k50-3"><use href="#C0" x="188.6"/></g><g id="k50-4"><use href="#B0" x="240.9"/></g><g id="k50-5"><use href="#A0" x="293.2"/></g><g id="k50-6"><use href="#A0" x="345.5"/></g><g id="k50-7"><use href="#B0" x="397.8"/></g><g id="k50-8"><use href="#D0" x="450.1"/></g><g id="k50-9"><use href="#D0" x="502.4"/></g><g id="k50-10"><use href="#A0" x="554.7"/></g><g id="k50-11"><use href="#A0" x="607"/></g></g>
<g id="r51" transform="translate(0,2662)"><g id="k51-1"><use href="#A1" x="84"/></g><g id="k51-2"><use href="#C1" x="136.3"/></g><g id="k51-3"><use href="#C1" x="188.6"/></g><g id="k51-4"><use href="#B1" x="240.9"/></g><g id="k51-5"><use href="#A1" x="293.2"/></g><g id="k51-6"><use href="#A1" x="345.5"/></g><g id="k51-7"><use href="#B1" x="397.8"/></g><g id="k51-8"><use href="#D1" x="450.1"/></g><g id="k51-9"><use href="#D1" x="502.4"/></g><g id="k51-10"><use href="#D1" x="554.7"/></g><g id="k51-11"><use href="#A1" x="607"/></g></g>
<g id="r52" transform="translate(0,2714)"><g id="k52-1"><use href="#A0" x="84"/></g><g id="k52-2"><use href="#A0" x="136.3"/></g><g id="k52-3"><use href="#B0" x="188.6"/></g><g id="k52-4"><use href="#B0" x="240.9"/></g><g id="k52-5"><use href="#B0" x="293.2"/></g><g id="k52-6"><use href="#B0" x="345.5"/></g><g id="k52-7"><use href="#A0" x="397.8"/></g><g id="k52-8"><use href="#A0" x="450.1"/></g><g id="k52-9"><use href="#C0" x="502.4"/></g><g id="k52-10"><use href="#A0" x="554.7"/></g><g id="k52-11"><use href="#A0" x="607"/></g></g>
<g id="r53" transform="translate(0,2766)"><g id="k53-1"><use href="#A1" x="84"/></g><g id="k53-2"><use href="#A1" x="136.3"/></g><g id="k53-3"><use href="#B1" x="188.6"/></g><g id="k53-4"><use href="#B1" x="240.9"/></g><g id="k53-5"><use href="#B1" x="293.2"/></g><g id="k53-6"><use href="#A1" x="345.5"/></g><g id="k53-7"><use href="#A1" x="397.8"/></g><g id="k53-8"><use href="#A1" x="450.1"/></g><g id="k53-9"><use href="#A1" x="502.4"/></g><g id="k53-10"><use href="#A1" x="554.7"/></g><g id="k53-11"><use href="#A1" x="607"/></g></g>
<g id="r54" transform="translate(0,2818)"><g id="k54-1"><use href="#A0" x="84"/></g><g id="k54-2"><use href="#A0" x="136.3"/></g><g id="k54-3"><use href="#A0" x="188.6"/></g><g id="k54-4"><use href="#A0" x="240.9"/></g><g id="k54-5"><use href="#A0" x="293.2"/></g><g id="k54-6"><use href="#A0" x="345.5"/></g><g id="k54-7"><use href="#A0" x="397.8"/></g><g id="k54-8"><use href="#A0" x="450.1"/></g><g id="k54-9"><use href="#A0" x="502.4"/></g><g id="k54-10"><use href="#A0" x="554.7"/></g><g id="k54-11"><use href="#A0" x="607"/></g></g>
<g id="r55" transform="translate(0,2870)"><g id="k55-1"><use href="#A1" x="84"/></g><g id="k55-2"><use href="#A1" x="136.3"/></g><g id="k55-3"><use href="#A1" x="188.6"/></g><g id="k55-4"><use href="#A1" x="240.9"/></g><g id="k55-5"><use href="#A1" x="293.2"/></g><g id="k55-6"><use href="#A1" x="345.5"/></g><g id="k55-7"><use href="#A1" x="397.8"/></g><g id="k55-8"><use href="#A1" x="450.1"/></g><g id="k55-9"><use href="#A1" x="502.4"/></g><g id="k55-10"><use href="#A1" x="554.7"/></g><g id="k55-11"><use href="#A1" x="607"/></g></g>
</g>
<text class="wm" x="345" y="1496.5" text-anchor="middle">BRACELETBOOK.COM</text>
</svg>
